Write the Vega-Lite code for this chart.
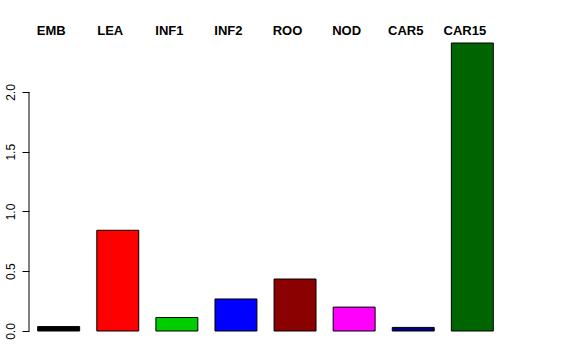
{
  "$schema": "https://vega.github.io/schema/vega-lite/v6.json",
  "width": 473,
  "height": 288,
  "autosize": {"type": "none"},
  "padding": {"left": 29, "top": 43, "right": 74, "bottom": 29},
  "background": "white",
  "config": {"view": {"stroke": null}, "font": "Liberation Sans"},
  "data": {"values": [
    {"tissue": "EMB", "value": 0.037, "color": "#000000"},
    {"tissue": "LEA", "value": 0.843, "color": "#FF0000"},
    {"tissue": "INF1", "value": 0.113, "color": "#00CD00"},
    {"tissue": "INF2", "value": 0.268, "color": "#0000FF"},
    {"tissue": "ROO", "value": 0.435, "color": "#8B0000"},
    {"tissue": "NOD", "value": 0.2, "color": "#FF00FF"},
    {"tissue": "CAR5", "value": 0.03, "color": "#000080"},
    {"tissue": "CAR15", "value": 2.41, "color": "#006400"}
  ]},
  "layer": [
    {
      "mark": {"type": "bar", "stroke": "#000000", "strokeWidth": 1},
      "encoding": {
        "x": {
          "field": "tissue", "type": "nominal", "sort": null,
          "scale": {"paddingInner": 0.29, "paddingOuter": 0.147},
          "axis": {
            "orient": "top", "title": null, "domain": false, "ticks": false,
            "labelAngle": 0, "labelFontWeight": "bold", "labelFontSize": 13,
            "labelColor": "#000000", "labelBaseline": "alphabetic",
            "labelPadding": 9, "labelOffset": -7.5
          }
        },
        "y": {
          "field": "value", "type": "quantitative",
          "scale": {"domain": [0, 2.41], "nice": false, "zero": true},
          "axis": {
            "title": null, "domain": false, "grid": false,
            "values": [0, 0.5, 1, 1.5, 2], "format": ".1f",
            "tickSize": 7, "tickColor": "#000000", "tickWidth": 1,
            "labelAngle": -90, "labelAlign": "center", "labelBaseline": "alphabetic",
            "labelFontSize": 12, "labelColor": "#000000", "labelPadding": 7.5
          }
        },
        "color": {"field": "color", "type": "nominal", "scale": null, "legend": null}
      }
    },
    {
      "data": {"values": [{"y0": 0, "y1": 2}]},
      "mark": {"type": "rule", "color": "#000000", "strokeWidth": 1},
      "encoding": {
        "x": {"value": 0},
        "y": {"field": "y0", "type": "quantitative"},
        "y2": {"field": "y1"}
      }
    }
  ]
}
